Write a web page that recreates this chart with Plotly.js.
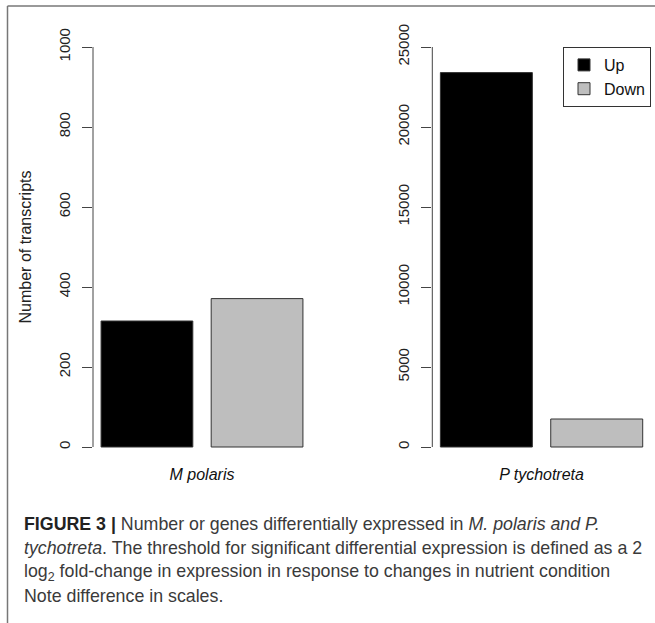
<!DOCTYPE html>
<html>
<head>
<meta charset="utf-8">
<script src="https://cdn.plot.ly/plotly-3.0.1.min.js"></script>
<style>html,body{margin:0;padding:0;background:#fff;}#chart{width:655px;height:623px;}</style>
</head>
<body>
<div id="chart"></div>
<script>
// ---- data ----
const seriesNames = ["Up", "Down"];
const species = ["M polaris", "P tychotreta"];
const mPolarisValues = [315, 371];
const pTychotretaValues = [23400, 1750];
const mPolarisTicks = [0, 200, 400, 600, 800, 1000];
const pTychotretaTicks = [0, 5000, 10000, 15000, 20000, 25000];
const seriesColors = ["#000000", "#bebebe"];

// R barplot-style geometry (space 0.2, width 1)
const space = 0.2, bw = 1;
const pos = seriesNames.map((_, i) => space + i * (bw + space) + bw / 2);
const xl = space, xr = seriesNames.length * (bw + space);
const ext = (xr - xl) * 0.04;
const xRange = [xl - ext, xr + ext];
const center = (pos[0] + pos[pos.length - 1]) / 2;
function yr(ticks) { const mx = ticks[ticks.length - 1]; return [-mx * 0.04, mx * 1.04]; }

const traces = [];
[mPolarisValues, pTychotretaValues].forEach((vals, p) => {
  seriesNames.forEach((name, i) => {
    traces.push({
      type: "bar", x: [pos[i]], y: [vals[i]], width: bw, name: name,
      xaxis: p === 0 ? "x" : "x2", yaxis: p === 0 ? "y" : "y2",
      marker: { color: seriesColors[i], line: { color: "#333", width: 1 } },
      showlegend: p === 0, legendgroup: name, hoverinfo: "y"
    });
  });
});

const W = 655, H = 623;
const yDom = [1 - 463 / H, 1 - 31 / H];
const tickFont = { family: "Liberation Sans, Arial, sans-serif", size: 15, color: "#222" };
function yAxis(ticks, anchor) {
  return {
    domain: yDom, range: yr(ticks), tickvals: ticks, ticktext: ticks.map(String),
    tickangle: -90, ticks: "outside", ticklen: 10, tickcolor: "#444", tickwidth: 1,
    showline: false, showgrid: false, zeroline: false, tickfont: tickFont,
    ticklabelstandoff: 6, anchor: anchor, fixedrange: true
  };
}
function xAxis(dom, label, anchor) {
  return {
    domain: dom, range: xRange, tickvals: [center], ticktext: ["<i>" + label + "</i>"],
    ticks: "", showline: false, showgrid: false, zeroline: false, anchor: anchor,
    tickfont: { family: "Liberation Sans, Arial, sans-serif", size: 16, color: "#111" }
  };
}

const capFont = { family: "Liberation Sans, Arial, sans-serif", size: 17.8, color: "#3a3a3a" };
const capLines = [
  "<b style='color:#222'>FIGURE 3 |</b> Number or genes differentially expressed in <i>M. polaris and P.</i>",
  "<i>tychotreta</i>. The threshold for significant differential expression is defined as a 2",
  "log<sub>2</sub> fold-change in expression in response to changes in nutrient condition",
  "Note difference in scales."
];
const capY = [524, 548, 572, 596];
const annotations = capLines.map((t, i) => ({
  xref: "paper", yref: "paper", x: 22 / W, y: 1 - capY[i] / H, xanchor: "left", yanchor: "middle",
  text: t, showarrow: false, font: capFont, align: "left"
}));

const layout = {
  width: W, height: H, margin: { l: 0, r: 0, t: 0, b: 0 },
  paper_bgcolor: "#fff", plot_bgcolor: "rgba(0,0,0,0)",
  barmode: "overlay", showlegend: true,
  xaxis: xAxis([93 / W, 311 / W], species[0], "y"),
  yaxis: Object.assign(yAxis(mPolarisTicks, "x"), {
    title: { text: "Number of transcripts", font: { family: "Liberation Sans, Arial, sans-serif", size: 16, color: "#222" }, standoff: 20 }
  }),
  xaxis2: xAxis([432.3 / W, 650.8 / W], species[1], "y2"),
  yaxis2: yAxis(pTychotretaTicks, "x2"),
  legend: {
    x: 651 / W, xanchor: "right", y: 1 - 47 / H, yanchor: "top",
    bordercolor: "#333", borderwidth: 1, bgcolor: "#fff",
    font: { family: "Liberation Sans, Arial, sans-serif", size: 16, color: "#111" },
    traceorder: "normal"
  },
  shapes: [
    { type: "line", xref: "x domain", yref: "y", x0: 0, x1: 0, y0: mPolarisTicks[0], y1: mPolarisTicks[mPolarisTicks.length - 1], line: { color: "#444", width: 1 } },
    { type: "line", xref: "x2 domain", yref: "y2", x0: 0, x1: 0, y0: pTychotretaTicks[0], y1: pTychotretaTicks[pTychotretaTicks.length - 1], line: { color: "#444", width: 1 } },
    { type: "line", xref: "paper", yref: "paper", x0: 7.5 / W, x1: 1, y0: 1 - 6 / H, y1: 1 - 6 / H, line: { color: "#777", width: 1.5 } },
    { type: "line", xref: "paper", yref: "paper", x0: 7.5 / W, x1: 7.5 / W, y0: 0, y1: 1 - 6 / H, line: { color: "#777", width: 1.5 } }
  ],
  annotations: annotations
};

Plotly.newPlot("chart", traces, layout, { displayModeBar: false, staticPlot: true });
</script>
</body>
</html>
